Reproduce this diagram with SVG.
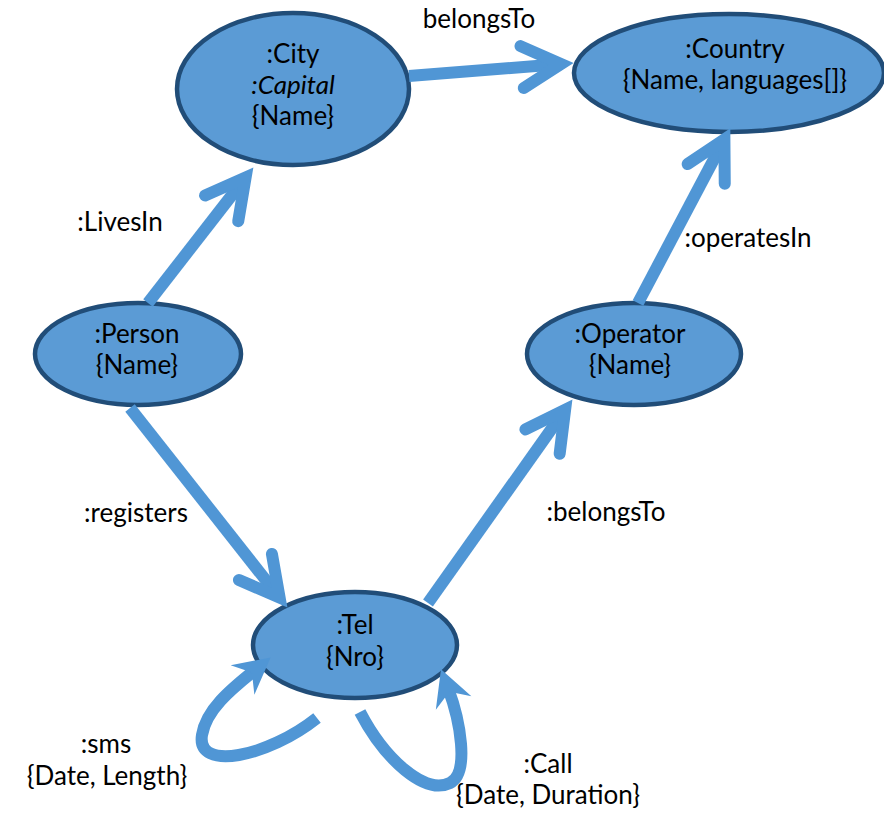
<svg xmlns="http://www.w3.org/2000/svg" width="884" height="814" viewBox="0 0 884 814">
  <style>
    .node ellipse { fill: #5b9bd5; stroke: #214d78; stroke-width: 4.5; }
    .node text, .label { font-family: "Lato", "Open Sans", sans-serif; font-size: 26px; fill: #000; text-anchor: middle; }
    .edge { fill: none; stroke: #5096d5; stroke-width: 12; stroke-linecap: butt; }
  </style>
  <defs>
    <!-- open chevron head, vertex sits on the line end -->
    <marker id="chevron" markerUnits="userSpaceOnUse" orient="auto" refX="0" refY="0" markerWidth="10" markerHeight="10" overflow="visible">
      <path d="M-39,-21 L0,0 L-39,21" fill="none" stroke="#5096d5" stroke-width="12" stroke-linecap="round" stroke-linejoin="miter" stroke-miterlimit="10"/>
    </marker>
    <!-- filled notched head for the self loops -->
    <marker id="barb" markerUnits="userSpaceOnUse" orient="auto" refX="0" refY="0" markerWidth="10" markerHeight="10" overflow="visible">
      <path d="M20,0 L-16,-19 L-4,0 L-16,19 Z" fill="#5096d5"/>
    </marker>
  </defs>

  <!-- nodes -->
  <g id="city" class="node">
    <ellipse cx="293" cy="89" rx="116" ry="76"/>
    <text x="293" y="63">:City</text>
    <text x="293" y="94" font-style="italic">:Capital</text>
    <text x="293" y="125">{Name}</text>
  </g>
  <g id="country" class="node">
    <ellipse cx="729" cy="73" rx="155" ry="59"/>
    <text x="735" y="58">:Country</text>
    <text x="735" y="89">{Name, languages[]}</text>
  </g>
  <g id="person" class="node">
    <ellipse cx="138" cy="354" rx="103" ry="51"/>
    <text x="137" y="343">:Person</text>
    <text x="137" y="374">{Name}</text>
  </g>
  <g id="operator" class="node">
    <ellipse cx="634" cy="354" rx="107" ry="51"/>
    <text x="630" y="343">:Operator</text>
    <text x="630" y="374">{Name}</text>
  </g>
  <g id="tel" class="node">
    <ellipse cx="355" cy="645" rx="102" ry="53"/>
    <text x="355" y="634">:Tel</text>
    <text x="355" y="666">{Nro}</text>
  </g>

  <!-- connectors -->
  <g id="connectors">
    <path class="edge" d="M409,76 L561,64" marker-end="url(#chevron)"/>
    <path class="edge" d="M148,303 L245.6,177.5" marker-end="url(#chevron)"/>
    <path class="edge" d="M130,408 L279.6,597.6" marker-end="url(#chevron)"/>
    <path class="edge" d="M428,603 L565.1,409.8" marker-end="url(#chevron)"/>
    <path class="edge" d="M638,303 L724.4,139.4" marker-end="url(#chevron)"/>
    <path class="edge" d="M317,718 C268,757 196,772 202,735 C206,710 230,690 255,670" marker-end="url(#barb)"/>
    <path class="edge" d="M360,712 C385,760 425,795 450,783 C470,773 460,720 448,688" marker-end="url(#barb)"/>
  </g>

  <!-- connector labels -->
  <g id="labels">
    <text class="label" x="479" y="28">belongsTo</text>
    <text class="label" x="120" y="231">:LivesIn</text>
    <text class="label" x="136" y="522">:registers</text>
    <text class="label" x="748" y="247">:operatesIn</text>
    <text class="label" x="606" y="521">:belongsTo</text>
    <text class="label" x="106" y="753">:sms</text>
    <text class="label" x="107" y="785">{Date, Length}</text>
    <text class="label" x="548" y="773">:Call</text>
    <text class="label" x="548" y="804">{Date, Duration}</text>
  </g>
</svg>
